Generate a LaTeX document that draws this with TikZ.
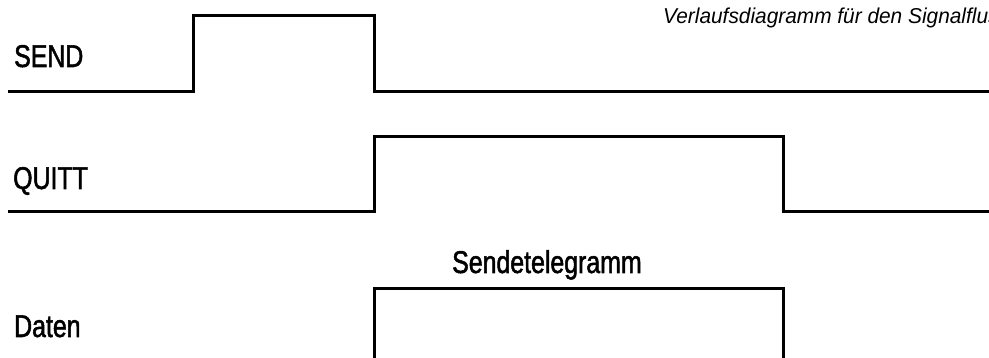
\documentclass[tikz,border=0pt]{standalone}
\usepackage{fontspec}
\setmainfont{Liberation Sans}
\newfontfamily\labelfont[FakeStretch=0.79,FakeBold=1.6]{Liberation Sans}
\newfontfamily\titlefont[FakeStretch=0.97]{Liberation Sans}
\begin{document}
\begin{tikzpicture}[x=1pt,y=-1pt,
  wave/.style={line width=3pt, line join=miter},
  siglabel/.style={anchor=base west, inner sep=0pt, font=\labelfont\fontsize{31.5}{31.5}\selectfont},
  titlelabel/.style={anchor=base west, inner sep=0pt, font=\titlefont\itshape\fontsize{21.5}{21.5}\selectfont}]
\useasboundingbox (0,0) rectangle (989,358);
% SEND
\draw[wave] (8,92) -- (193,92) -- (193,16) -- (374,16) -- (374,92) -- (989,92);
% QUITT
\draw[wave] (8,212) -- (374,212) -- (374,137) -- (783,137) -- (783,212) -- (989,212);
% Daten
\draw[wave] (374,360) -- (374,289) -- (783,289) -- (783,360);
\node[siglabel] (send) at (14,67) {SEND};
\node[siglabel] (quitt) at (13,189) {QUITT};
\node[siglabel] (daten) at (14,337) {Daten};
\node[siglabel] (tel) at (452,273) {Sendetelegramm};
\node[titlelabel] (title) at (663,24) {Verlaufsdiagramm für den Signalfluss};
\end{tikzpicture}
\end{document}
